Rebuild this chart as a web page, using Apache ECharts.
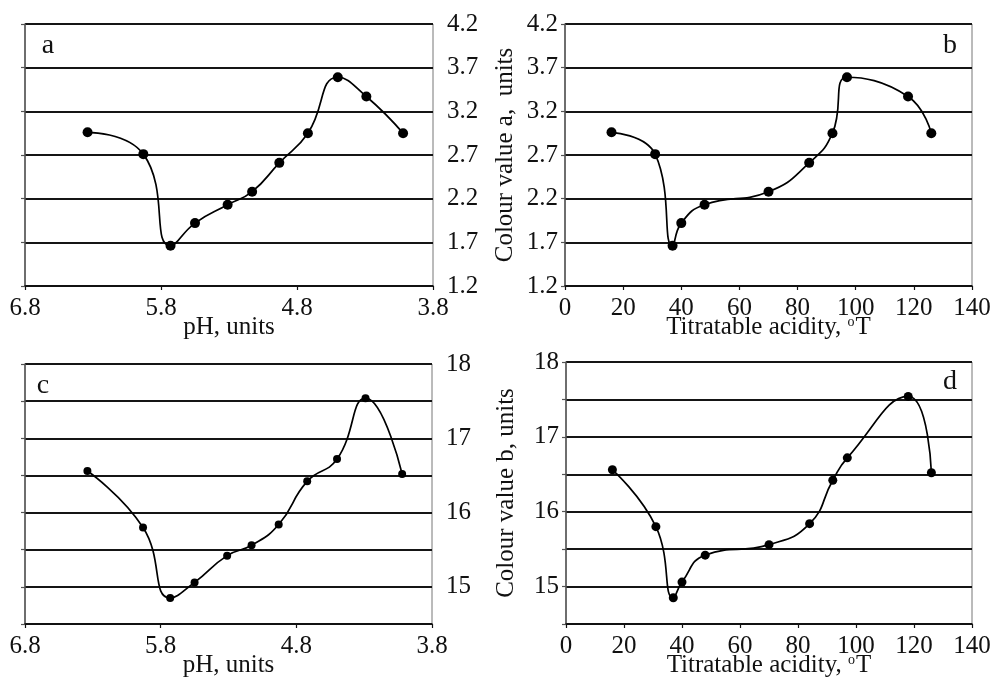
<!DOCTYPE html>
<html>
<head>
<meta charset="utf-8">
<script src="https://cdn.jsdelivr.net/npm/echarts@6/dist/echarts.min.js"></script>
<style>
html,body{margin:0;padding:0;background:#fff;}
#chart{width:994px;height:677px;}
</style>
</head>
<body>
<div id="chart"></div>
<script>
// ---- data ----
const phValues = [6.34, 5.93, 5.73, 5.55, 5.31, 5.13, 4.93, 4.72, 4.50, 4.29, 4.02];
const acidity = [16, 31, 37, 40, 48, 70, 84, 92, 97, 118, 126];
const colourA = [2.96, 2.71, 1.66, 1.92, 2.13, 2.28, 2.61, 2.95, 3.59, 3.37, 2.95];
const colourB = [16.56, 15.80, 14.85, 15.06, 15.42, 15.56, 15.84, 16.42, 16.72, 17.54, 16.52];
const phTicks = [6.8, 5.8, 4.8, 3.8];
const acidityTicks = [0, 20, 40, 60, 80, 100, 120, 140];
const colourATicks = [1.2, 1.7, 2.2, 2.7, 3.2, 3.7, 4.2];
const colourBLabels = [15, 16, 17, 18];
const colourBGrid = [14.5, 15, 15.5, 16, 16.5, 17, 17.5, 18];
const panelLetters = ['a', 'b', 'c', 'd'];

const FONT = 'Liberation Serif';
const FS = 25;

function pairs(xs, ys) { return xs.map((x, i) => [x, ys[i]]); }

const grids = [
  {left: 25, top: 24, width: 408, height: 262},
  {left: 565, top: 24, width: 407, height: 262},
  {left: 25, top: 364, width: 407, height: 260},
  {left: 566, top: 362, width: 406, height: 262}
].map(g => Object.assign(g, {show: true, borderColor: '#777', borderWidth: 1, backgroundColor: 'transparent',
  containLabel: false, outerBoundsMode: 'none'}));

const axisLabelStyle = {fontFamily: FONT, fontSize: FS, color: '#111'};
const nameStyle = {fontFamily: FONT, fontSize: FS, color: '#111',
  rich: {sup: {fontFamily: FONT, fontSize: 14, color: '#111', verticalAlign: 'top', padding: [0, 1, 10, 0]}}};

function xAxisPH(gi) {
  return {
    gridIndex: gi, type: 'value', min: phTicks[phTicks.length - 1], max: phTicks[0], interval: 1, inverse: true,
    name: 'pH, units', nameLocation: 'middle', nameGap: 29, nameMoveOverlap: false, nameTextStyle: nameStyle,
    axisLine: {onZero: false, lineStyle: {color: '#111', width: 1.6}},
    axisTick: {show: true, inside: false, length: 4, lineStyle: {color: '#111', width: 1.2}, customValues: phTicks},
    axisLabel: Object.assign({margin: 10, customValues: phTicks, formatter: v => v.toFixed(1)}, axisLabelStyle),
    splitLine: {show: false}
  };
}
function xAxisAc(gi) {
  return {
    gridIndex: gi, type: 'value', min: acidityTicks[0], max: acidityTicks[acidityTicks.length - 1], interval: 20,
    name: 'Titratable acidity, {sup|o}T', nameLocation: 'middle', nameGap: 29, nameMoveOverlap: false, nameTextStyle: nameStyle,
    axisLine: {onZero: false, lineStyle: {color: '#111', width: 1.6}},
    axisTick: {show: true, inside: false, length: 4, lineStyle: {color: '#111', width: 1.2}},
    axisLabel: Object.assign({margin: 10}, axisLabelStyle),
    splitLine: {show: false}
  };
}
function yAxisBase(gi, min, max, pos) {
  return {
    gridIndex: gi, type: 'value', min: min, max: max, interval: 0.5, position: pos
  };
}

const gridLine = {show: true, lineStyle: {color: '#151515', width: 1.8}};
const leftLine = {show: true, onZero: false, lineStyle: {color: '#555', width: 1.5}};
const leftTick = {show: true, length: 4, lineStyle: {color: '#555', width: 1.2}};

const yAxes = [
  // panel a: left line + ticks + grid, labels on right
  Object.assign(yAxisBase(0, colourATicks[0], colourATicks[colourATicks.length - 1], 'left'), {
    axisLine: leftLine, axisTick: leftTick, axisLabel: {show: false}, splitLine: gridLine
  }),
  Object.assign(yAxisBase(0, colourATicks[0], colourATicks[colourATicks.length - 1], 'right'), {
    axisLine: {show: false}, axisTick: {show: false},
    axisLabel: Object.assign({margin: 14, formatter: v => v.toFixed(1)}, axisLabelStyle),
    splitLine: {show: false}
  }),
  // panel b
  Object.assign(yAxisBase(1, colourATicks[0], colourATicks[colourATicks.length - 1], 'left'), {
    name: 'Colour value a,  units', nameLocation: 'middle', nameGap: 47, nameMoveOverlap: false, nameTextStyle: nameStyle,
    axisLine: leftLine, axisTick: leftTick,
    axisLabel: Object.assign({margin: 7, formatter: v => v.toFixed(1)}, axisLabelStyle),
    splitLine: gridLine
  }),
  // panel c
  Object.assign(yAxisBase(2, colourBGrid[0], colourBGrid[colourBGrid.length - 1], 'left'), {
    axisLine: leftLine, axisTick: leftTick, axisLabel: {show: false}, splitLine: gridLine
  }),
  Object.assign(yAxisBase(2, colourBGrid[0], colourBGrid[colourBGrid.length - 1], 'right'), {
    axisLine: {show: false}, axisTick: {show: false},
    axisLabel: Object.assign({margin: 14, formatter: v => colourBLabels.includes(v) ? String(v) : ''}, axisLabelStyle),
    splitLine: {show: false}
  }),
  // panel d
  Object.assign(yAxisBase(3, colourBGrid[0], colourBGrid[colourBGrid.length - 1], 'left'), {
    name: 'Colour value b, units', nameLocation: 'middle', nameGap: 47, nameMoveOverlap: false, nameTextStyle: nameStyle,
    axisLine: leftLine, axisTick: leftTick,
    axisLabel: Object.assign({margin: 7, formatter: v => colourBLabels.includes(v) ? String(v) : ''}, axisLabelStyle),
    splitLine: gridLine
  })
];

function lineSeries(xi, yi, data, size) {
  return {
    type: 'line', xAxisIndex: xi, yAxisIndex: yi, data: data, smooth: 0.5,
    symbol: 'circle', symbolSize: size, showSymbol: true,
    lineStyle: {color: '#000', width: 1.7},
    itemStyle: {color: '#000'},
    animation: false, z: 5
  };
}

const letterPos = [[48, 46], [950, 46], [43, 386], [950, 382]];

const option = {
  backgroundColor: '#fff',
  animation: false,
  grid: grids,
  xAxis: [xAxisPH(0), xAxisAc(1), xAxisPH(2), xAxisAc(3)],
  yAxis: yAxes,
  series: [
    lineSeries(0, 0, pairs(phValues, colourA), 10),
    lineSeries(1, 2, pairs(acidity, colourA), 10),
    lineSeries(2, 3, pairs(phValues, colourB), 8),
    lineSeries(3, 5, pairs(acidity, colourB), 9)
  ],
  graphic: panelLetters.map((t, i) => ({
    type: 'text', x: letterPos[i][0], y: letterPos[i][1], z: 10,
    style: {text: t, fontFamily: FONT, fontSize: 28, fill: '#111', textAlign: 'center', textVerticalAlign: 'middle'}
  }))
};

const chart = echarts.init(document.getElementById('chart'), null, {renderer: 'canvas'});
chart.setOption(option);
</script>
</body>
</html>
